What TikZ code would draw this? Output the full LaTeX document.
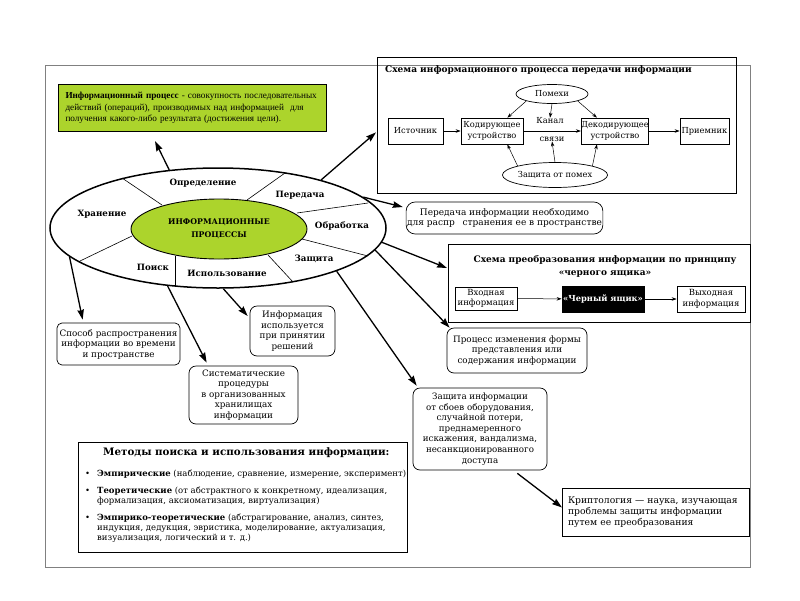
\documentclass[tikz,border=0pt]{standalone}
\usepackage{fontspec}
\setmainfont{DejaVu Serif}
\newfontfamily\tms{Liberation Serif}
\usetikzlibrary{shapes.geometric,arrows.meta,calc}
\definecolor{limegr}{RGB}{172,212,44}
\newcommand\myfs[2]{\fontsize{#1}{#2}\selectfont}
\begin{document}
\begin{tikzpicture}[x=1pt,y=-1pt,
  bigarr/.style={line width=1.3pt,-{Stealth[length=10pt,width=6.5pt,inset=1pt]}},
  thinarr/.style={line width=0.5pt,-{Stealth[length=5pt,width=3.5pt]}},
  sbox/.style={draw,line width=0.7pt,inner sep=1pt,align=center,font=\myfs{8.3}{10.5}},
  rbox/.style={sbox,rounded corners=7pt,font=\myfs{8.8}{10.5}},
  lbl/.style={font=\bfseries\myfs{8.7}{10.5},inner sep=0},
  txt/.style={font=\myfs{8.3}{10.5},inner sep=0,align=center},
  divl/.style={line width=0.6pt}]
\useasboundingbox (0,0) rectangle (800,600);
% outer frame
\draw[gray,line width=0.8pt] (45,65) rectangle (750,567);

% definition box
\node[draw,fill=limegr,line width=1pt,anchor=north west,text width=254pt,inner xsep=7pt,
      minimum height=47pt,align=left,font=\tms\myfs{9.2}{11.5}] (def) at (58,84)
 {\textbf{Информационный процесс} - совокупность последовательных\\
  действий (операций), производимых над информацией~ для\\
  получения какого-либо результата (достижения цели).};

% big ellipse
\node[draw,ellipse,line width=1.5pt,minimum width=336pt,minimum height=120pt,inner sep=0] (big) at (218,228) {};
\draw[divl] (122,178) -- (162,205);
\draw[divl] (285,173) -- (247,200);
\draw[divl] (297,213) -- (368,203);
\draw[divl] (302,239) -- (368,256);
\draw[divl] (268,255) -- (293,282);
\draw[divl] (175,256) -- (175,287);
\draw[divl] (132,236) -- (80,261);
\node[draw,ellipse,fill=limegr,line width=0.9pt,minimum width=176pt,minimum height=60pt,inner sep=0,
      font=\bfseries\myfs{7.8}{13},align=center] (core) at (219,229) {ИНФОРМАЦИОННЫЕ\\ПРОЦЕССЫ};
\node[lbl] (l1) at (203,183) {Определение};
\node[lbl] (l2) at (300,195) {Передача};
\node[lbl] (l3) at (102,214) {Хранение};
\node[lbl] (l4) at (342,226) {Обработка};
\node[lbl] (l5) at (314,259) {Защита};
\node[lbl] (l6) at (153,267) {Поиск};
\node[lbl] (l7) at (227,273) {Использование};

\coordinate (defend) at (155,141);
\draw[bigarr] (big.130) -- (defend);

% schema 1
\node[draw,line width=0.8pt,anchor=north west,minimum width=359pt,minimum height=136pt,inner sep=0] (sch1) at (377,57) {};
\node[anchor=west,inner sep=0,font=\bfseries\myfs{9}{10.5}] (t1) at (385,70) {Схема информационного процесса передачи информации};
\node[sbox,minimum width=55pt,minimum height=26pt] (src) at (415.5,131) {Источник};
\node[sbox,minimum width=62pt,minimum height=26pt,inner sep=0] (enc) at (492,131) {Кодирующее\\устройство};
\node[sbox,minimum width=66pt,minimum height=26pt,inner sep=0] (dec) at (615,131) {Декодирующее\\устройство};
\node[sbox,minimum width=49pt,minimum height=26pt] (dst) at (704.5,131) {Приемник};
\node[sbox,ellipse,minimum width=72pt,minimum height=19pt,inner sep=0] (noise) at (552,94) {Помехи};
\node[sbox,ellipse,minimum width=102pt,minimum height=25pt,inner sep=0] (prot) at (555,175) {Защита от помех};
\node[txt] (kan) at (550,121) {Канал};
\node[txt] (svz) at (552,139) {связи};
\draw[thinarr] (src) -- (enc);
\draw[thinarr] (enc) -- (dec);
\draw[thinarr] (dec) -- (dst);
\draw[thinarr] (noise.south west) -- ($(enc.north east)+(-16,0)$);
\draw[thinarr] (noise.south) -- (kan.north);
\draw[thinarr] (noise.south east) -- ($(dec.north west)+(16,0)$);
\draw[thinarr] (prot.north west) -- ($(enc.south east)+(-16,0)$);
\draw[thinarr] (prot.north) -- (svz.south);
\draw[thinarr] (prot.north east) -- ($(dec.south west)+(16,0)$);
\draw[bigarr] (big.25) -- ($(sch1.west)+(-1,7)$);

% transmission note
\node[rbox,font=\myfs{9}{10.5},minimum width=195pt,minimum height=32pt,rounded corners=9pt] (trans) at (504.5,218)
 {Передача информации необходимо\\для распр\hspace{5pt} странения ее в пространстве};
\draw[bigarr] (big.12) -- ($(trans.west)+(-3,-11)$);

% black box schema
\node[draw,line width=0.8pt,anchor=north west,minimum width=302pt,minimum height=78pt,inner sep=0] (sch2) at (448,244) {};
\node[inner sep=0,align=center,font=\bfseries\myfs{9}{13}] (t2) at (605,266.5) {Схема преобразования информации по принципу\\«черного ящика»};
\node[sbox,font=\myfs{8.5}{10.5},minimum width=62pt,minimum height=23pt,inner sep=0] (inp) at (486,298.5) {Входная\\информация};
\node[sbox,fill=black,text=white,font=\bfseries\myfs{8.3}{10.5},minimum width=82pt,minimum height=26pt] (bb) at (603,299) {«Черный ящик»};
\node[sbox,font=\myfs{8.5}{10.5},minimum width=68pt,minimum height=26pt,inner sep=0] (outp) at (711,299) {Выходная\\информация};
\draw[thinarr] (inp) -- (bb);
\draw[thinarr] (bb) -- (outp);
\draw[bigarr] (big.-5) -- ($(sch2.north west)+(-1,24)$);

% processing
\node[rbox,minimum width=140pt,minimum height=45pt] (proc) at (517,350.5)
 {Процесс изменения формы\\представления или\\содержания информации};
\draw[bigarr] (big.-8) -- ($(proc.north west)+(3,0)$);

% protection
\node[rbox,font=\myfs{8.7}{10.6},minimum width=134pt,minimum height=82pt] (zi) at (480,429)
 {Защита информации\\от сбоев оборудования,\\случайной потери,\\преднамеренного\\искажения, вандализма,\\несанкционированного\\доступа};
\draw[bigarr] (big.-20) -- ($(zi.north west)+(4,-2)$);

% cryptology
\node[sbox,line width=1pt,font=\myfs{9.2}{11},anchor=north west,minimum width=187pt,minimum height=48pt,text width=176pt,align=left,inner xsep=5.5pt] (kr) at (562,488)
 {Криптология — наука, изучающая\\проблемы защиты информации\\путем ее преобразования};
\draw[bigarr] ($(zi.south east)+(-30,3)$) -- ($(kr.west)+(0,-5)$);

% storage
\node[rbox,rounded corners=5pt,minimum width=123pt,minimum height=42pt] (stor) at (118.5,344)
 {Способ распространения\\информации во времени\\и пространстве};
\draw[bigarr] (big.191.5) -- ($(stor.north west)+(26,-3)$);

% search
\node[rbox,minimum width=109pt,minimum height=58pt] (sys) at (243.5,395)
 {Систематические\\процедуры\\в организованных\\хранилищах\\информации};
\draw[bigarr] (big.229) -- ($(sys.north west)+(18,-3)$);

% use
\node[rbox,minimum width=85pt,minimum height=50pt] (use) at (292.5,331)
 {Информация\\используется\\при принятии\\решений};
\draw[bigarr] (big.275) -- ($(use.west)+(-2,-15)$);

% methods
\node[draw,line width=1pt,anchor=north west,minimum width=329pt,minimum height=110pt,inner sep=0] (meth) at (78,442) {};
\node[anchor=west,inner sep=0,font=\bfseries\myfs{10.3}{11}] (mt) at (103,453) {Методы поиска и использования информации:};
\node[anchor=west,inner sep=0,align=left,font=\myfs{8.5}{10.3}] (m1) at (85,474)
 {\makebox[12pt][l]{•}\textbf{Эмпирические} (наблюдение, сравнение, измерение, эксперимент)};
\node[anchor=west,inner sep=0,align=left,font=\myfs{8.5}{10.3}] (m2) at (85,496)
 {\makebox[12pt][l]{•}\textbf{Теоретические} (от абстрактного к конкретному, идеализация,\\
  \hspace*{12pt}формализация, аксиоматизация, виртуализация)};
\node[anchor=west,inner sep=0,align=left,font=\myfs{8.5}{10.3}] (m3) at (85,528)
 {\makebox[12pt][l]{•}\textbf{Эмпирико-теоретические} (абстрагирование, анализ, синтез,\\
  \hspace*{12pt}индукция, дедукция, эвристика, моделирование, актуализация,\\
  \hspace*{12pt}визуализация, логический и т. д.)};
\end{tikzpicture}
\end{document}
